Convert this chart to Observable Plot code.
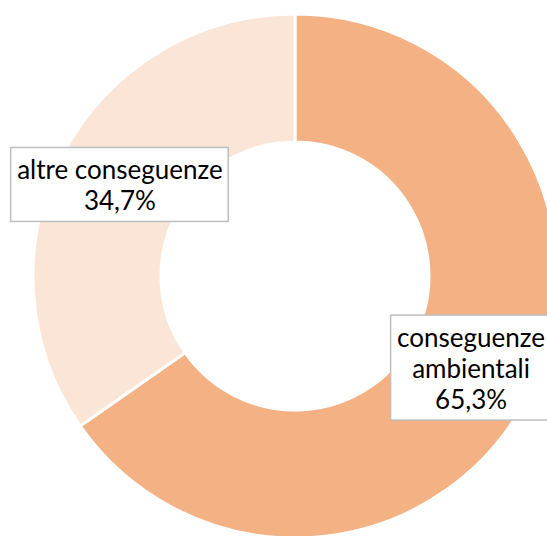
<!DOCTYPE html>
<html><head><meta charset="utf-8">
<script src="https://cdn.jsdelivr.net/npm/d3@7"></script>
<script src="https://cdn.jsdelivr.net/npm/@observablehq/plot@0.6"></script>
<style>body{margin:0;background:#fff;overflow:hidden}</style>
</head><body><div id="chart"></div>
<script>
const categories = ["conseguenze ambientali", "altre conseguenze"];
const values = [65.3, 34.7];
const valueLabels = ["65,3%", "34,7%"];
const labelText = ["conseguenze\nambientali", "altre conseguenze"];
const colors = ["#F4B183", "#FBE5D6"];

const W = 547, H = 536;
const cx = 295, cy = 276, rOuter = 262, rInner = 134, rLabel = 198;
const fontSize = 26, lineH = 31, fontFamily = "Lato, 'Open Sans', sans-serif";

const arcs = d3.pie().sort(null).value(d => d)(values);
const ctx = document.createElement("canvas").getContext("2d");
ctx.font = `${fontSize}px Lato`;

const labels = arcs.map((a, i) => {
  const m = (a.startAngle + a.endAngle) / 2;
  const lines = (labelText[i] + "\n" + valueLabels[i]).split("\n");
  const w = Math.max(...lines.map(l => ctx.measureText(l).width)) + 12;
  const h = lines.length * lineH + 12;
  const x = cx + rLabel * Math.sin(m), y = cy - rLabel * Math.cos(m);
  return {category: categories[i], text: lines.join("\n"), x, y, x1: x - w/2, x2: x + w/2, y1: y - h/2, y2: y + h/2};
});

const donut = (index, scales) => {
  const g = d3.create("svg:g").attr("transform", `translate(${scales.x(cx)},${scales.y(cy)})`);
  const arc = d3.arc().innerRadius(rInner).outerRadius(rOuter);
  g.selectAll("path").data(arcs).join("path")
    .attr("d", arc)
    .attr("fill", (d, i) => colors[i])
    .attr("stroke", "#fff")
    .attr("stroke-width", 3)
    .attr("stroke-linejoin", "miter");
  return g.node();
};

const chart = Plot.plot({
  width: W, height: H,
  margin: 0,
  x: {domain: [0, W], range: [0, W], axis: null},
  y: {domain: [0, H], range: [0, H], axis: null},
  style: {background: "#fff", fontFamily},
  marks: [
    donut,
    Plot.rect(labels, {x1: "x1", x2: "x2", y1: "y1", y2: "y2", fill: "#fff", stroke: "#BFBFBF", strokeWidth: 1.5}),
    Plot.text(labels, {x: "x", y: "y", text: "text", fontSize, lineHeight: lineH / fontSize, fill: "#000", fontFamily})
  ]
});
document.getElementById("chart").append(chart);
</script>
</body></html>
